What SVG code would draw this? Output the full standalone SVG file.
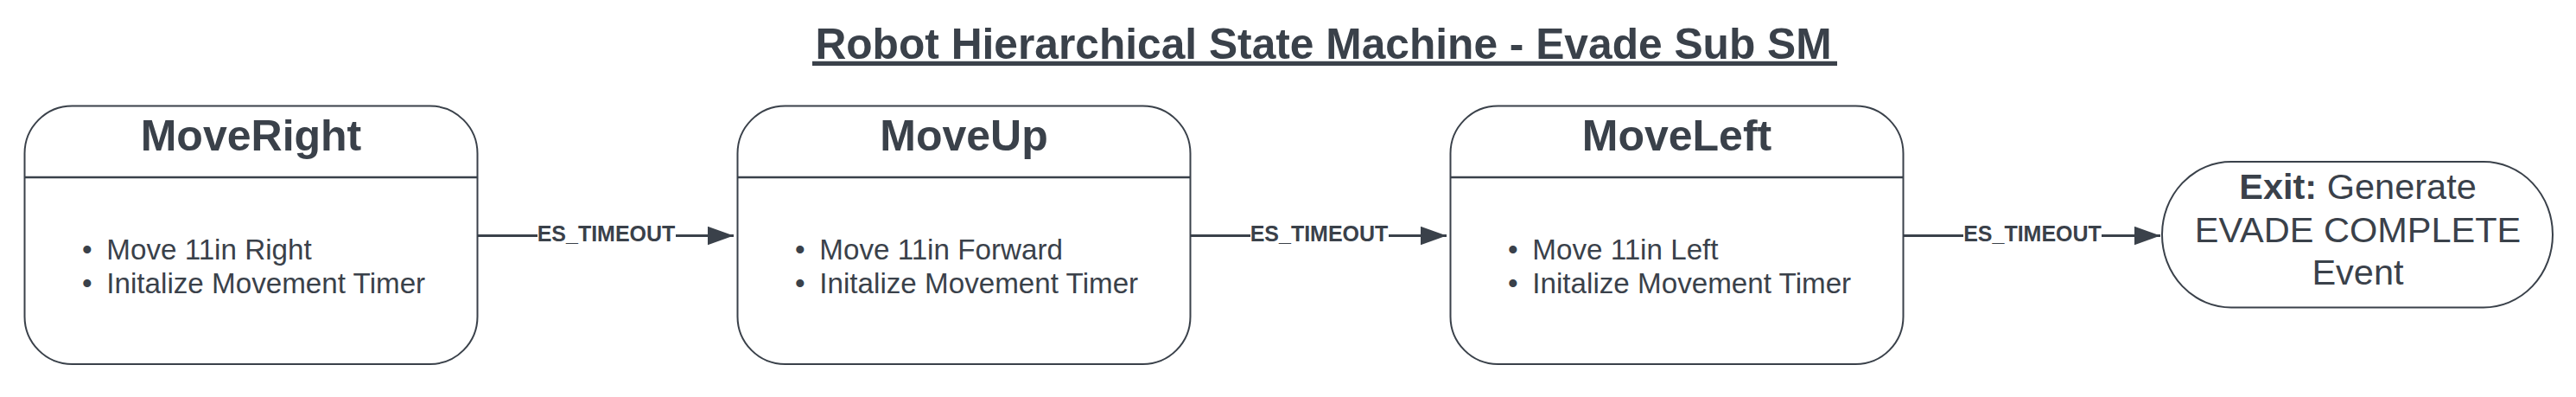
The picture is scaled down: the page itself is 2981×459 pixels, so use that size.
<svg xmlns="http://www.w3.org/2000/svg" width="2981" height="459" viewBox="0 0 2981 459">
<style>
text{font-family:"Liberation Sans",Arial,sans-serif;fill:#3a414a}
.box{fill:#fff;stroke:#3a414a;stroke-width:2}
.div{stroke:#3a414a;stroke-width:2.5}
.hd{font-size:50px;font-weight:bold;text-anchor:middle}
.bl{font-size:33.2px}
.lbl{font-size:25px;font-weight:bold;text-anchor:middle}
.conn{stroke:#3a414a;stroke-width:3;fill:none}
.ex{font-size:41.5px;text-anchor:middle}
</style>
<defs>
<marker id="ah" markerUnits="userSpaceOnUse" markerWidth="30" markerHeight="22" refX="28" refY="10" orient="auto" viewBox="0 0 28 20">
<path d="M0,0 L28,10 L0,20 Z" fill="#3a414a"/>
</marker>
</defs>
<rect width="2981" height="459" fill="#fff"/>
<g id="title">
<text x="1531.5" y="68" font-size="49.7" font-weight="bold" text-anchor="middle">Robot Hierarchical State Machine - Evade Sub SM</text>
<rect x="940" y="70.8" width="1186" height="5.2" fill="#3a414a"/>
</g>
<g id="connectors">
<path class="conn" d="M553,272.5 H849" marker-end="url(#ah)"/>
<rect x="622" y="258" width="160" height="26" fill="#fff"/>
<text class="lbl" x="701.5" y="278.5">ES_TIMEOUT</text>
<path class="conn" d="M1378,272.5 H1674" marker-end="url(#ah)"/>
<rect x="1447" y="258" width="160" height="26" fill="#fff"/>
<text class="lbl" x="1526.5" y="278.5">ES_TIMEOUT</text>
<path class="conn" d="M2203,272.5 H2500" marker-end="url(#ah)"/>
<rect x="2272" y="258" width="160" height="26" fill="#fff"/>
<text class="lbl" x="2352" y="278.5">ES_TIMEOUT</text>
</g>
<g id="moveRight">
<rect class="box" x="28.5" y="122.5" width="524" height="298.5" rx="55" ry="55"/>
<line class="div" x1="28.5" y1="205" x2="552.5" y2="205"/>
<text class="hd" x="290.5" y="174">MoveRight</text>
<text class="bl" x="95" y="300">•</text>
<text class="bl" x="123.3" y="300">Move 11in Right</text>
<text class="bl" x="95" y="339">•</text>
<text class="bl" x="123.3" y="339">Initalize Movement Timer</text>
</g>
<g id="moveUp">
<rect class="box" x="853.5" y="122.5" width="524" height="298.5" rx="55" ry="55"/>
<line class="div" x1="853.5" y1="205" x2="1377.5" y2="205"/>
<text class="hd" x="1115.5" y="174">MoveUp</text>
<text class="bl" x="920" y="300">•</text>
<text class="bl" x="948.3" y="300">Move 11in Forward</text>
<text class="bl" x="920" y="339">•</text>
<text class="bl" x="948.3" y="339">Initalize Movement Timer</text>
</g>
<g id="moveLeft">
<rect class="box" x="1678.5" y="122.5" width="524" height="298.5" rx="55" ry="55"/>
<line class="div" x1="1678.5" y1="205" x2="2202.5" y2="205"/>
<text class="hd" x="1940.5" y="174">MoveLeft</text>
<text class="bl" x="1745" y="300">•</text>
<text class="bl" x="1773.3" y="300">Move 11in Left</text>
<text class="bl" x="1745" y="339">•</text>
<text class="bl" x="1773.3" y="339">Initalize Movement Timer</text>
</g>
<g id="exit">
<rect class="box" x="2502" y="187" width="452" height="168.5" rx="80" ry="84"/>
<text class="ex" x="2728.5" y="230"><tspan font-weight="bold">Exit:</tspan> Generate</text>
<text class="ex" x="2728.5" y="279.5">EVADE COMPLETE</text>
<text class="ex" x="2728.5" y="329">Event</text>
</g>
</svg>
